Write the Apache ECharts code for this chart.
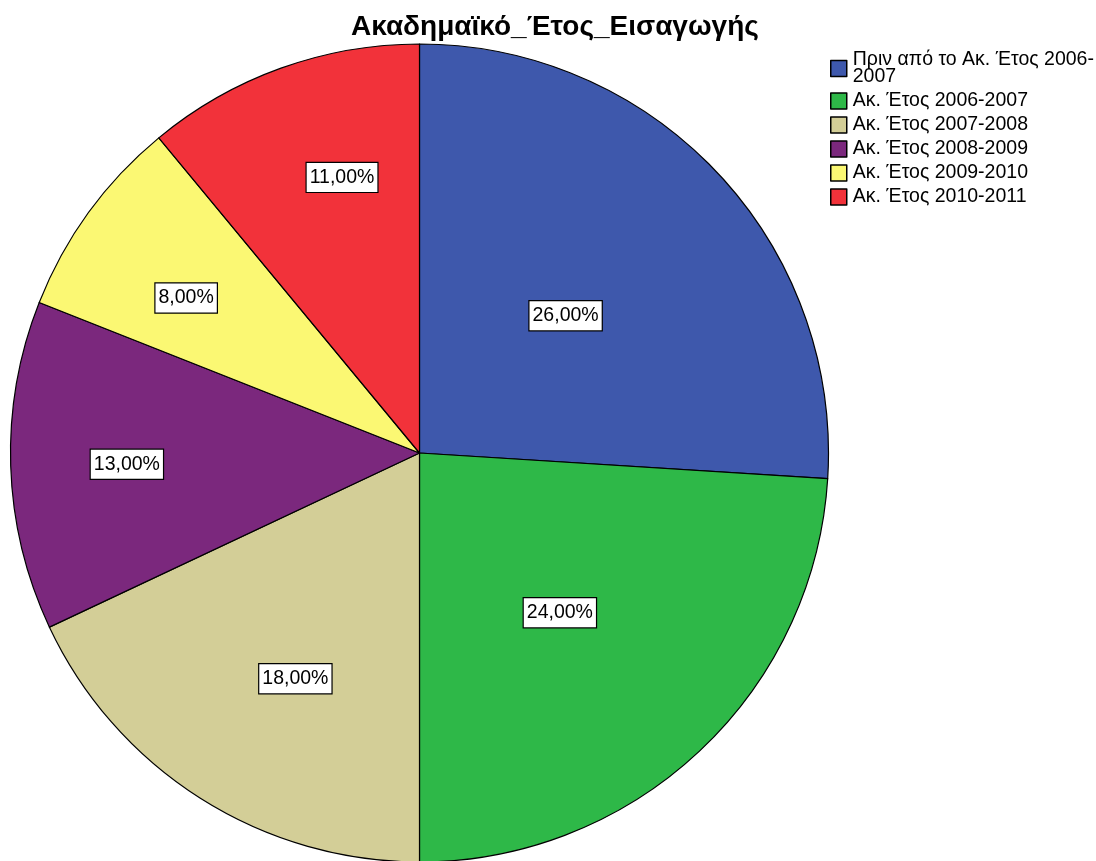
<!DOCTYPE html>
<html>
<head>
<meta charset="utf-8">
<script src="https://cdn.jsdelivr.net/npm/echarts@6/dist/echarts.min.js"></script>
<style>html,body{margin:0;padding:0;background:#fff;}#c{width:1096px;height:861px;}</style>
</head>
<body>
<div id="c"></div>
<script>
const categories = ["Πριν από το Ακ. Έτος 2006-2007", "Ακ. Έτος 2006-2007", "Ακ. Έτος 2007-2008", "Ακ. Έτος 2008-2009", "Ακ. Έτος 2009-2010", "Ακ. Έτος 2010-2011"];
const values = [26, 24, 18, 13, 8, 11];
const colors = ["#3E58AC", "#2EB848", "#D3CE97", "#7B287D", "#FBF873", "#F2323A"];
const labelRadiusFrac = [0.49, 0.52, 0.63, 0.716, 0.685, 0.70];
const labelAngleShift = [0, 1.9, -3.6, -0.4, -2.4, 4.1];

const CX = 419.5, CY = 453, R = 409;
const total = values.reduce((a, b) => a + b, 0);
const cum = [];
let acc = 0;
values.forEach(v => { cum.push(acc + v / 2); acc += v; });

const chart = echarts.init(document.getElementById('c'));
chart.setOption({
  animation: false,
  title: {
    text: 'Ακαδημαϊκό_Έτος_Εισαγωγής',
    left: 346, top: 8,
    textStyle: { fontFamily: 'Liberation Sans', fontSize: 28, fontWeight: 'bold', color: '#000' }
  },
  legend: {
    orient: 'vertical',
    left: 825, top: 45,
    itemWidth: 16, itemHeight: 16, itemGap: 4,
    icon: 'rect',
    itemStyle: { borderColor: '#000', borderWidth: 1.5 },
    textStyle: { fontFamily: 'Liberation Sans', fontSize: 19.5, color: '#000', lineHeight: 17, padding: [0, 0, 0, 1] },
    formatter: function (name) {
      if (name === categories[0]) return 'Πριν από το Ακ. Έτος 2006-\n2007';
      return name;
    },
    data: categories
  },
  series: [{
    type: 'pie',
    center: [CX, CY],
    radius: R,
    startAngle: 90,
    clockwise: true,
    silent: true,
    itemStyle: { borderColor: '#000', borderWidth: 1.2 },
    label: {
      position: 'inside',
      fontFamily: 'Liberation Sans',
      fontSize: 19.5,
      color: '#000',
      backgroundColor: '#fff',
      borderColor: '#000',
      borderWidth: 1.2,
      padding: [5, 3, 4, 3],
      formatter: p => p.value.toFixed(2).replace('.', ',') + '%'
    },
    labelLine: { show: false },
    labelLayout: function (params) {
      const i = params.dataIndex;
      const ang = (cum[i] / total * 360 + labelAngleShift[i]) * Math.PI / 180;
      const r = R * labelRadiusFrac[i];
      return {
        x: CX + Math.sin(ang) * r,
        y: CY - Math.cos(ang) * r,
        align: 'center',
        verticalAlign: 'middle'
      };
    },
    data: categories.map((n, i) => ({ name: n, value: values[i], itemStyle: { color: colors[i] } }))
  }]
});
</script>
</body>
</html>
